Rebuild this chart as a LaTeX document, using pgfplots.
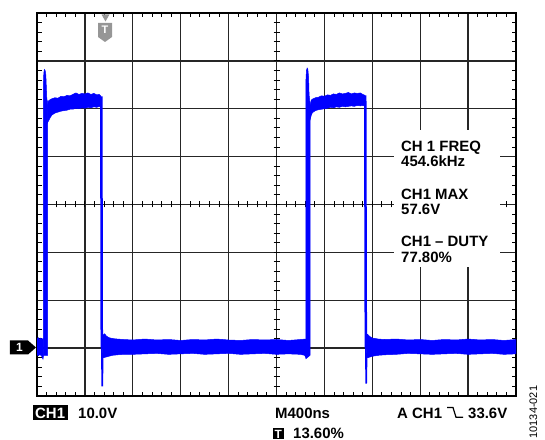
\documentclass[border=0pt]{standalone}
\usepackage{pgfplots}
\pgfplotsset{compat=1.18}
\usepackage{fontspec}
\setmainfont{Liberation Sans}
\definecolor{trace}{RGB}{0,0,255}
\definecolor{tgray}{RGB}{150,150,150}
\newcommand{\lab}{\bfseries\fontsize{15}{15}\selectfont}
\begin{document}
\begin{tikzpicture}
\useasboundingbox (-37bp,-44bp) rectangle (508bp,396bp);
\begin{axis}[
  at={(0,0)}, anchor=south west,
  scale only axis, width=479bp, height=383bp,
  xmin=0, xmax=4000, ymin=-10, ymax=70,
  xtick={0,400,...,4000}, ytick={-10,0,...,70},
  minor x tick num=4, minor y tick num=4,
  xticklabels={}, yticklabels={},
  grid=major,
  major grid style={black!85, line width=1.3bp},
  major tick length=0pt, minor tick length=4.5bp,
  tick align=inside,
  minor tick style={black, line width=0.9bp},
  axis line style={black, line width=2.2bp},
]
% crosshair ticks
\pgfplotsinvokeforeach{80,160,...,3920}{
  \draw[black, line width=0.9bp] ([yshift=-3bp]axis cs:#1,30) -- ([yshift=3bp]axis cs:#1,30);
}
\pgfplotsinvokeforeach{-8,-6,...,68}{
  \draw[black, line width=0.9bp] ([xshift=-3bp]axis cs:2000,#1) -- ([xshift=3bp]axis cs:2000,#1);
}
% low band A
\addplot[fill=trace, draw=trace, line width=0.5bp] coordinates {
(0,1.9) (10,2.2) (20,1.8) (30,2.1) (40,1.9) (54,2.0) (54,-1.6) (50,-2.3) (45,-2.0) (35,-1.5) (20,-1.4) (10,-1.6) (0,-1.3)} -- cycle;
% rise 1 with spike
\addplot[fill=trace, draw=trace, line width=0.5bp] coordinates {
(54,-1.5) (54,55.5) (57,57.5) (62,58.2) (68,58.0) (74,57.0) (78,54.5) (82,52.0) (88,51.5) (88,-1.5)} -- cycle;
% high band 1
\addplot[fill=trace, draw=trace, line width=0.5bp] coordinates {
(86,50.5) (95,51.6) (109,51.9) (125,52.1) (150,52.3) (175,52.2) (200,52.6) (225,52.5) (250,52.8) (275,52.7) (300,53.0) (325,53.3) (350,53.0) (375,53.2) (400,53.1) (425,53.3) (450,53.0) (475,53.2) (500,52.9) (520,53.0) (534,52.6)
(534,50.3) (520,50.5) (500,50.3) (475,50.4) (450,50.2) (425,50.3) (400,50.1) (375,50.2) (350,50.0) (325,50.1) (300,49.9) (275,49.9) (250,49.7) (225,49.6) (200,49.5) (175,49.3) (150,49.1) (125,48.7) (109,48.1) (95,47.4) (86,47.0)} -- cycle;
% fall 1 and undershoot
\addplot[trace, line width=2.5bp] coordinates {(537,52.6) (541,0)};
\addplot[trace, line width=1.6bp] coordinates {(541,0) (545,-8.0) (549,-1)};
% low band B
\addplot[fill=trace, draw=trace, line width=0.5bp] coordinates {
(545,2.3) (555,2.8) (565,3.0) (580,2.5) (600,2.2) (630,2.0) (670,1.9) (720,1.8) (800,1.7) (900,1.9) (1000,1.7) (1100,1.8) (1200,1.6) (1300,1.8) (1400,1.7) (1500,1.9) (1600,1.7) (1700,1.6) (1800,1.8) (1900,1.7) (2000,1.8) (2100,1.6) (2200,1.8) (2246,1.9)
(2246,-2.0) (2235,-1.5) (2200,-1.3) (2100,-1.2) (2000,-1.3) (1900,-1.1) (1800,-1.2) (1700,-1.3) (1600,-1.1) (1500,-1.2) (1400,-1.3) (1300,-1.1) (1200,-1.2) (1100,-1.3) (1000,-1.1) (900,-1.2) (800,-1.3) (720,-1.3) (670,-1.4) (630,-1.5) (600,-1.7) (570,-1.9) (555,-2.0) (545,-1.8)} -- cycle;
% rise 2 with spike
\addplot[fill=trace, draw=trace, line width=0.5bp] coordinates {
(2246,-2.2) (2246,56) (2250,58.0) (2256,58.5) (2262,58.2) (2268,56.5) (2272,53) (2280,51.0) (2280,-1.5)} -- cycle;
% high band 2
\addplot[fill=trace, draw=trace, line width=0.5bp] coordinates {
(2278,50.5) (2290,51.8) (2300,52.0) (2325,52.3) (2350,52.4) (2375,52.7) (2400,52.6) (2425,52.9) (2450,52.8) (2475,53.1) (2500,53.0) (2525,53.3) (2550,53.1) (2575,53.2) (2600,53.4) (2625,53.1) (2650,53.3) (2675,53.2) (2700,53.3) (2720,53.0) (2739,52.8)
(2739,50.5) (2720,50.7) (2700,50.6) (2675,50.7) (2650,50.5) (2625,50.6) (2600,50.5) (2575,50.4) (2550,50.5) (2525,50.3) (2500,50.4) (2475,50.2) (2450,50.3) (2425,50.1) (2400,50.0) (2375,49.9) (2350,49.8) (2325,49.6) (2300,49.2) (2290,48.6) (2278,47.5)} -- cycle;
% fall 2 and undershoot
\addplot[trace, line width=2.5bp] coordinates {(2741,52.8) (2746,0)};
\addplot[trace, line width=1.6bp] coordinates {(2746,0) (2749,-7.4) (2753,-1)};
% low band C
\addplot[fill=trace, draw=trace, line width=0.5bp] coordinates {
(2750,2.4) (2760,2.9) (2775,2.5) (2800,2.1) (2850,1.9) (2900,1.8) (3000,1.9) (3100,1.7) (3200,1.8) (3300,1.6) (3400,1.8) (3500,1.7) (3600,1.9) (3700,1.7) (3800,1.8) (3900,1.6) (4000,1.8)
(4000,-1.2) (3900,-1.3) (3800,-1.1) (3700,-1.2) (3600,-1.3) (3500,-1.1) (3400,-1.2) (3300,-1.3) (3200,-1.2) (3100,-1.1) (3000,-1.3) (2900,-1.4) (2850,-1.5) (2800,-1.7) (2775,-1.9) (2760,-2.0) (2750,-1.8)} -- cycle;
\end{axis}
% measurement box
\fill[white] (357bp,129bp) rectangle (463bp,266bp);
\node[anchor=base west, font=\lab, inner sep=0pt] at (364bp,244bp) {CH 1 FREQ};
\node[anchor=base west, font=\lab, inner sep=0pt] at (364bp,229bp) {454.6kHz};
\node[anchor=base west, font=\lab, inner sep=0pt] at (364bp,196bp) {CH1 MAX};
\node[anchor=base west, font=\lab, inner sep=0pt] at (364bp,181bp) {57.6V};
\node[anchor=base west, font=\lab, inner sep=0pt] at (364bp,149bp) {CH1 -- DUTY};
\node[anchor=base west, font=\lab, inner sep=0pt] at (364bp,133bp) {77.80\%};
% trigger marker top
\fill[tgray] (64.5bp,381.5bp) -- (72.5bp,381.5bp) -- (68.5bp,374.5bp) -- cycle;
\fill[tgray] (61bp,373bp) -- (75bp,373bp) -- (75bp,359bp) -- (68bp,354bp) -- (61bp,359bp) -- cycle;
\node[text=white, font=\bfseries\fontsize{11}{11}\selectfont, inner sep=0pt] at (68bp,366bp) {T};
% channel marker
\fill[black] (-27bp,41.5bp) -- (-9bp,41.5bp) -- (-1bp,48.5bp) -- (-9bp,55.5bp) -- (-27bp,55.5bp) -- cycle;
\node[text=white, font=\bfseries\fontsize{12}{12}\selectfont, inner sep=0pt] at (-17.5bp,48.5bp) {1};
% bottom labels
\node[anchor=base west, fill=black, text=white, font=\lab, inner xsep=2.5bp, inner ysep=2bp, text height=10.7bp, text depth=0pt] at (-4.5bp,-22bp) {CH1};
\node[anchor=base west, font=\lab, inner sep=0pt] at (41bp,-22bp) {10.0V};
\node[anchor=base west, font=\lab, inner sep=0pt] at (238bp,-22bp) {M400ns};
\node[anchor=base west, font=\lab, inner sep=0pt] at (360bp,-22bp) {A};
\node[anchor=base west, font=\lab, inner sep=0pt] at (375bp,-22bp) {CH1};
\draw[black, line width=1.2bp] (410bp,-11.5bp) -- (416bp,-11.5bp) -- (419bp,-21.3bp) -- (426bp,-21.3bp);
\node[anchor=base west, font=\lab, inner sep=0pt] at (431bp,-22bp) {33.6V};
\node[anchor=base west, fill=black, text=white, font=\bfseries\fontsize{12}{12}\selectfont, inner xsep=1.5bp, inner ysep=1.2bp, text height=8.8bp, text depth=0pt] at (236bp,-42bp) {T};
\node[anchor=base west, font=\lab, inner sep=0pt] at (256bp,-42bp) {13.60\%};
\node[rotate=90, anchor=base west, font=\fontsize{11}{11}\selectfont, inner sep=0pt] at (500bp,-42.5bp) {10134-021};
\end{tikzpicture}
\end{document}
